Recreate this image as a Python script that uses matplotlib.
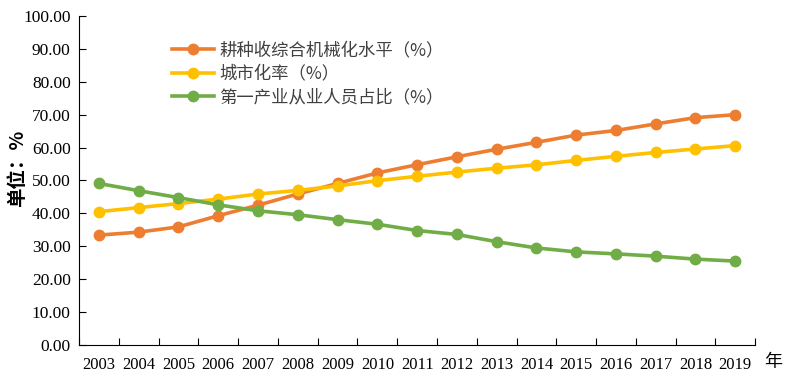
import numpy as np
import matplotlib.pyplot as plt

years = [str(y) for y in range(2003, 2020)]
mech = [33.4, 34.3, 35.9, 39.3, 42.5, 45.9, 49.1, 52.3, 54.8, 57.2,
        59.5, 61.6, 63.8, 65.2, 67.2, 69.1, 70.0]
urban = [40.53, 41.76, 42.99, 44.34, 45.89, 46.99, 48.34, 49.95, 51.27,
         52.57, 53.73, 54.77, 56.10, 57.35, 58.52, 59.58, 60.60]
primary = [49.1, 46.9, 44.8, 42.6, 40.8, 39.6, 38.1, 36.7, 34.8, 33.6,
           31.4, 29.5, 28.3, 27.7, 27.0, 26.1, 25.5]
names = ["耕种收综合机械化水平（%）", "城市化率（%）", "第一产业从业人员占比（%）"]
colors = ["#ED7D31", "#FFC000", "#70AD47"]

plt.rcParams['font.family'] = ['Liberation Serif', 'Noto Sans CJK SC', 'DejaVu Sans']

fig = plt.figure(figsize=(7.88, 3.92), dpi=100)
ax = fig.add_axes([0.1003, 0.1199, 0.858, 0.8393])

x = np.arange(len(years))
for vals, name, c in zip([mech, urban, primary], names, colors):
    ax.plot(x, vals, color=c, lw=2.6, marker='o', ms=7.5, label=name)

ax.set_xlim(-0.5, len(years) - 0.5)
ax.set_ylim(0, 100)
ax.set_yticks(np.arange(0, 101, 10))
ax.set_yticklabels(["%.2f" % v for v in np.arange(0, 101, 10)], fontsize=12.5)
ax.set_xticks(np.arange(-0.5, len(years), 1))
ax.set_xticklabels([])
ax.set_xticks(x, minor=True)
ax.set_xticklabels(years, minor=True, fontsize=12)
ax.tick_params(axis='x', which='major', direction='in', length=5)
ax.tick_params(axis='x', which='minor', length=0, pad=9)
ax.tick_params(axis='y', direction='in', length=5, pad=6)
for s in ['top', 'right']:
    ax.spines[s].set_visible(False)

leg = ax.legend(loc='upper left', bbox_to_anchor=(0.115, 0.97), frameon=False,
                prop={'family': ['Noto Sans CJK SC'], 'size': 12.5},
                handlelength=2.4, labelspacing=0.3, handletextpad=0.3)
for t in leg.get_texts():
    t.set_color('#404040')

fig.text(0.022, 0.57, "单位：%", rotation=90, fontsize=14, fontweight='bold',
         family=['Noto Sans CJK SC'], va='center', ha='center')
fig.text(0.981, 0.077, "年", fontsize=13, family=['Noto Sans CJK SC'],
         va='center', ha='center')

fig.savefig("out.png", dpi=100)
